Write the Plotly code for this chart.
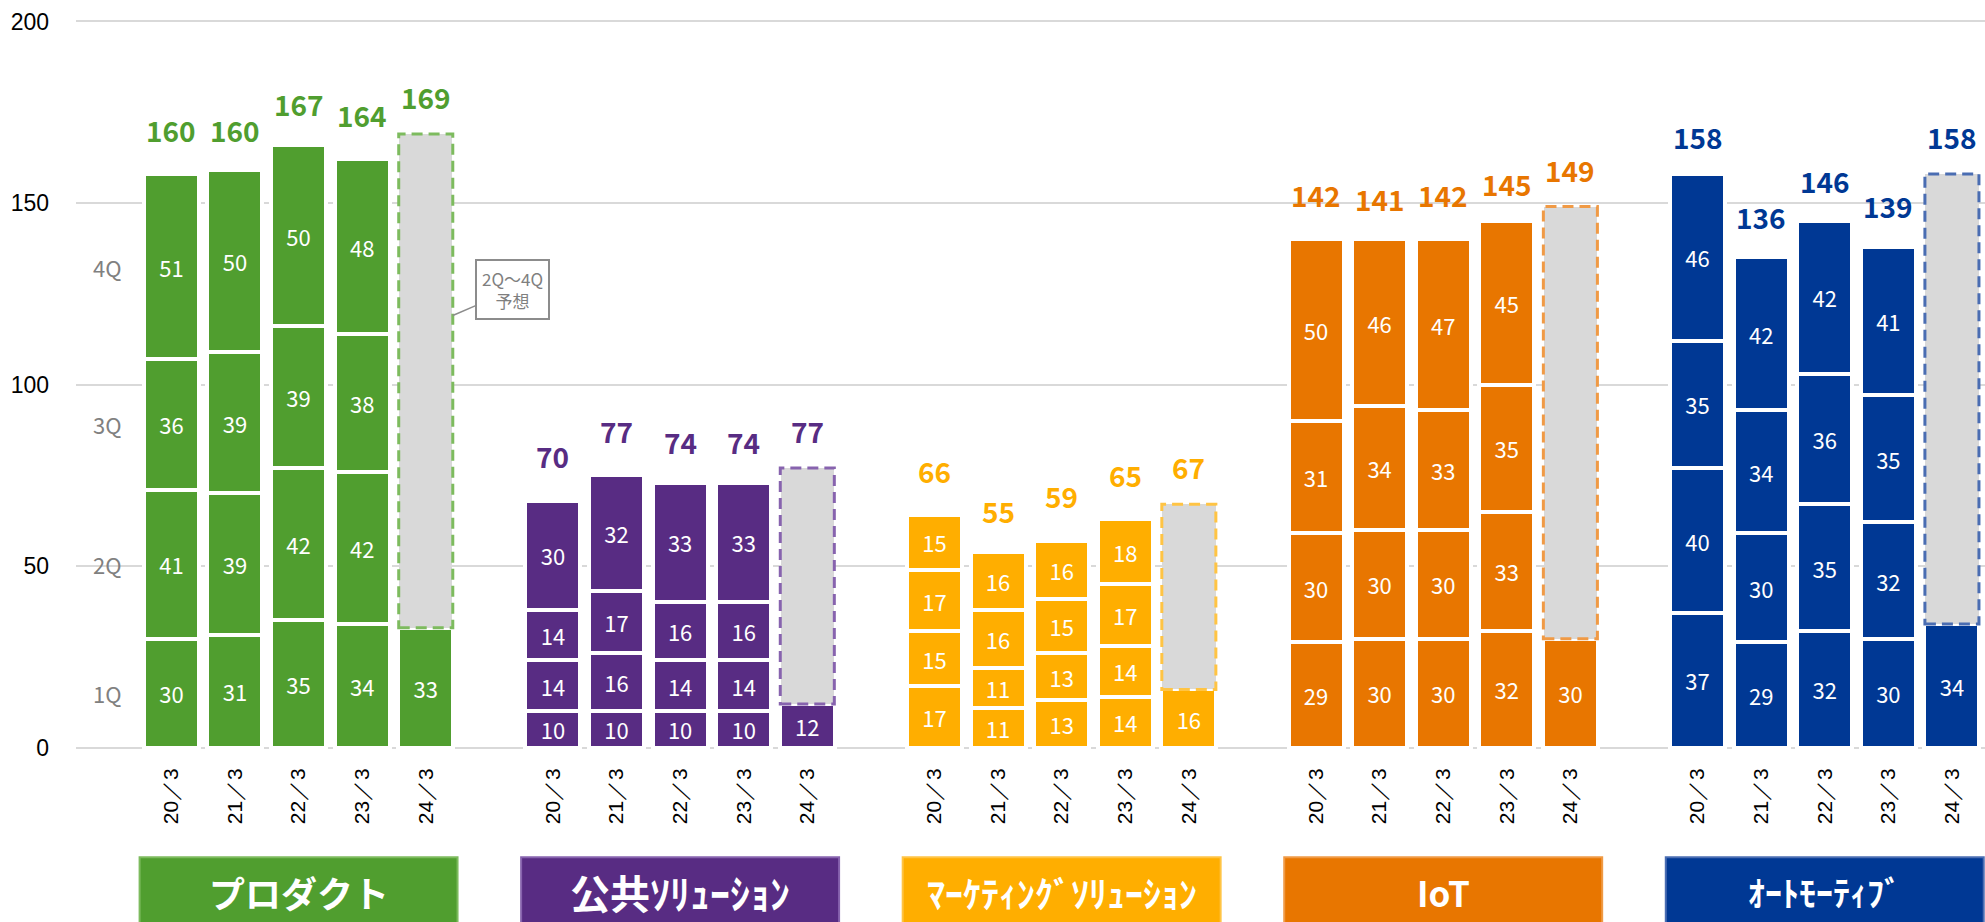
import plotly.graph_objects as go

# 決算期
years = ["20／3", "21／3", "22／3", "23／3", "24／3"]

# セグメント名・色
segments = ["プロダクト", "公共ｿﾘｭｰｼｮﾝ", "ﾏｰｹﾃｨﾝｸﾞｿﾘｭｰｼｮﾝ", "IoT", "ｵｰﾄﾓｰﾃｨﾌﾞ"]
seg_colors = ["#509E2F", "#582C83", "#FFAE00", "#E87600", "#003894"]
dash_colors = ["#7DBB5E", "#8763AE", "#FFC444", "#F09A45", "#4A6DB2"]
name_fonts = [36, 40, 36, 35, 34]

# 四半期ごとの値 (20/3〜23/3), 24/3 は 1Q のみ実績
q1 = [[30, 31, 35, 34, 33], [10, 10, 10, 10, 12], [17, 11, 13, 14, 16],
      [29, 30, 30, 32, 30], [37, 29, 32, 30, 34]]
q2 = [[41, 39, 42, 42], [14, 16, 14, 14], [15, 11, 13, 14],
      [30, 30, 30, 33], [40, 30, 35, 32]]
q3 = [[36, 39, 39, 38], [14, 17, 16, 16], [17, 16, 15, 17],
      [31, 34, 33, 35], [35, 34, 36, 35]]
q4 = [[51, 50, 50, 48], [30, 32, 33, 33], [15, 16, 16, 18],
      [50, 46, 47, 45], [46, 42, 42, 41]]

# 年度合計 (24/3 は予想)
totals = [[160, 160, 167, 164, 169], [70, 77, 74, 74, 77], [66, 55, 59, 65, 67],
          [142, 141, 142, 145, 149], [158, 136, 146, 139, 158]]

q_names = ["1Q", "2Q", "3Q", "4Q"]

XMIN, XMAX = -1.5, 28.52
BAR_W = 0.865


def pos(g, i):
    return g * 6 + i


fig = go.Figure()

quarters = [q1, q2, q3, q4]
for qi, qdata in enumerate(quarters):
    xs, ys, cols = [], [], []
    for g in range(5):
        for i, v in enumerate(qdata[g]):
            xs.append(pos(g, i))
            ys.append(v)
            cols.append(seg_colors[g])
    fig.add_trace(go.Bar(
        x=xs, y=ys, name=q_names[qi], width=BAR_W,
        marker=dict(color=cols, line=dict(color="white", width=4)),
        texttemplate="%{y}", textposition="inside", insidetextanchor="middle",
        textangle=0, constraintext="none",
        textfont=dict(color="white", size=22, family="Noto Sans CJK JP"),
        hoverinfo="skip",
    ))

# 2Q〜4Q 予想 (グレー)
fx, fy = [], []
for g in range(5):
    fx.append(pos(g, 4))
    fy.append(totals[g][4] - q1[g][4])
fig.add_trace(go.Bar(
    x=fx, y=fy, width=0.84, marker=dict(color="#D9D9D9", line=dict(width=0)),
    hoverinfo="skip",
))

shapes = []
annotations = []
for g in range(5):
    x4 = pos(g, 4)
    shapes.append(dict(
        type="rect", xref="x", yref="y", x0=x4 - 0.425, x1=x4 + 0.425,
        y0=q1[g][4], y1=totals[g][4],
        line=dict(color=dash_colors[g], width=3, dash="11px,6px"),
        fillcolor="rgba(0,0,0,0)", layer="above",
    ))
    # 合計ラベル
    for i in range(5):
        annotations.append(dict(
            x=pos(g, i), y=totals[g][i], text=str(totals[g][i]),
            showarrow=False, yshift=37, yanchor="middle", xanchor="center",
            font=dict(size=28, color=seg_colors[g], family="Noto Sans CJK JP", weight="bold"),
        ))
    # 下部のセグメント名ボックス
    px0 = (pos(g, 0) - 0.5 - XMIN) / (XMAX - XMIN)
    px1 = (pos(g, 4) + 0.5 - XMIN) / (XMAX - XMIN)
    shapes.append(dict(
        type="rect", xref="paper", yref="paper", x0=px0, x1=px1, y0=-0.26, y1=-0.1486,
        fillcolor=seg_colors[g], line=dict(color=dash_colors[g], width=2), layer="above",
    ))
    annotations.append(dict(
        xref="paper", yref="paper", x=(px0 + px1) / 2, y=-0.196, text=segments[g],
        showarrow=False, yanchor="middle", xanchor="center",
        font=dict(size=name_fonts[g], color="white", family="Noto Sans CJK JP", weight="bold"),
    ))

# 1Q〜4Q の位置ラベル (最初の棒の中央)
cum = 0
for qi, qdata in enumerate(quarters):
    v = qdata[0][0]
    annotations.append(dict(
        x=-1, y=cum + v / 2, text=q_names[qi], showarrow=False, xanchor="center",
        font=dict(size=22, color="#808080", family="Noto Sans CJK JP"),
    ))
    cum += v

# 吹き出し
annotations.append(dict(
    x=pos(0, 4) + 0.425, y=119, text="2Q～4Q<br>予想",
    showarrow=True, arrowhead=0, arrowcolor="#8C8C8C", arrowwidth=1.5,
    ax=60, ay=-26, bgcolor="white", bordercolor="#8C8C8C", borderwidth=2, borderpad=5,
    font=dict(size=17, color="#7F7F7F", family="Noto Sans CJK JP"),
))

all_x = [pos(g, i) for g in range(5) for i in range(5)]

fig.update_layout(
    width=1985, height=922,
    margin=dict(l=76, r=0, t=20, b=173),
    barmode="stack", showlegend=False,
    plot_bgcolor="white", paper_bgcolor="white",
    shapes=shapes, annotations=annotations,
    xaxis=dict(
        range=[XMIN, XMAX], tickvals=all_x, ticktext=years * 5, tickangle=-90,
        tickfont=dict(size=21, color="black", family="Liberation Sans"),
        showgrid=False, zeroline=False, showline=False, ticklabelstandoff=14,
    ),
    yaxis=dict(
        range=[-0.4, 200.4], tickvals=[0, 50, 100, 150, 200],
        tickfont=dict(size=23, color="black", family="Liberation Sans"),
        showgrid=True, gridcolor="#D9D9D9", gridwidth=2,
        zeroline=True, zerolinecolor="#D9D9D9", zerolinewidth=2,
        ticklabelstandoff=26,
    ),
)

fig.write_html("out.html", config={"displayModeBar": False},
               post_script="document.body.style.margin='0';")
